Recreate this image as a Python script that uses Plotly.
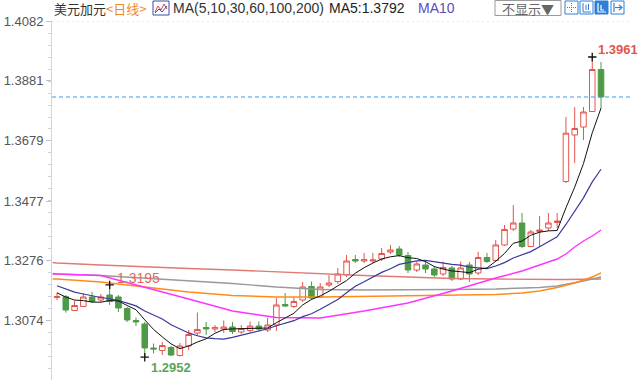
import plotly.graph_objects as go
import pandas as pd

# ---------------- data (USD/CAD daily) ----------------
open_ = [1.31527, 1.31554, 1.31090, 1.31225, 1.31544, 1.31443, 1.31611, 1.31544, 1.31157, 1.30754,
         1.30636, 1.29830, 1.29746, 1.29847, 1.29578, 1.29897, 1.30334, 1.30519, 1.30468, 1.30468,
         1.30536, 1.30368, 1.30418, 1.30569, 1.30435, 1.30603, 1.31292, 1.31225, 1.31443, 1.31897,
         1.31544, 1.31947, 1.32065, 1.32283, 1.32804, 1.32754, 1.32754, 1.32821, 1.33056, 1.33157,
         1.32939, 1.32451, 1.32619, 1.32485, 1.32317, 1.32519, 1.32149, 1.32619, 1.32351, 1.32871,
         1.32771, 1.33292, 1.33829, 1.34031, 1.33241, 1.33745, 1.33863, 1.34048, 1.35426, 1.36989,
         1.37257, 1.37778, 1.39190]
high = [1.31695, 1.31611, 1.31426, 1.31678, 1.31712, 1.31645, 1.3195, 1.31611, 1.31208, 1.30855,
        1.30704, 1.29981, 1.30031, 1.29897, 1.29998, 1.30435, 1.31023, 1.30704, 1.30603, 1.30754,
        1.30704, 1.30603, 1.30720, 1.30720, 1.30838, 1.31510, 1.31678, 1.31544, 1.32048, 1.32065,
        1.32014, 1.32283, 1.32519, 1.32955, 1.32955, 1.33023, 1.33023, 1.33191, 1.33292, 1.33258,
        1.33056, 1.32737, 1.32737, 1.32586, 1.32737, 1.32586, 1.32737, 1.32720, 1.33066, 1.33023,
        1.33460, 1.33964, 1.34636, 1.34367, 1.33796, 1.34266, 1.34367, 1.34367, 1.37594, 1.37930,
        1.37930, 1.3961, 1.39442]
low = [1.31443, 1.31016, 1.31073, 1.31208, 1.31342, 1.31376, 1.31275, 1.31040, 1.30704, 1.30569,
       1.2952, 1.29645, 1.29594, 1.29561, 1.2955, 1.29763, 1.30233, 1.30267, 1.30368, 1.30334,
       1.30300, 1.30300, 1.30368, 1.30384, 1.30368, 1.30401, 1.31208, 1.31174, 1.31376, 1.31443,
       1.31510, 1.31880, 1.31981, 1.32216, 1.32687, 1.32687, 1.32687, 1.32754, 1.32989, 1.32888,
       1.32351, 1.32384, 1.32351, 1.32216, 1.32250, 1.32082, 1.32115, 1.32048, 1.32283, 1.32687,
       1.32720, 1.33258, 1.33762, 1.33191, 1.33224, 1.33224, 1.33762, 1.33863, 1.35375, 1.36048,
       1.36821, 1.37762, 1.37896]
close = [1.31561, 1.31107, 1.31258, 1.31544, 1.31393, 1.31544, 1.31393, 1.31174, 1.30771, 1.30704,
         1.29830, 1.29796, 1.29914, 1.29594, 1.29897, 1.30284, 1.30452, 1.30468, 1.30519, 1.30536,
         1.30384, 1.30485, 1.30569, 1.30468, 1.30603, 1.31275, 1.31241, 1.31393, 1.31880, 1.31510,
         1.31880, 1.32014, 1.32317, 1.32754, 1.32754, 1.32804, 1.32787, 1.33006, 1.33124, 1.32955,
         1.32451, 1.32653, 1.32485, 1.32283, 1.32535, 1.32149, 1.32519, 1.32317, 1.32871, 1.32737,
         1.33292, 1.33813, 1.34031, 1.33241, 1.33729, 1.33796, 1.34031, 1.34098, 1.3705, 1.37207,
         1.3776, 1.39190, 1.38266]
# closes of the days before the visible window (needed for MA5 / MA10)
prior_closes = [1.3230, 1.3222, 1.3215, 1.3210, 1.3203, 1.3181, 1.3176, 1.3164, 1.3164]

# long moving averages at these candle positions
ma_idx = [-0.5, 0, 5, 10, 15, 20, 25, 30, 35, 40, 45, 50, 53, 55, 57, 58, 59, 60, 61, 62]
ma30 = [1.32317, 1.32317, 1.32266, 1.31880, 1.31477, 1.31073, 1.30855, 1.30838, 1.31073, 1.31342,
        1.31746, 1.32182, 1.32418, 1.32619, 1.32821, 1.32989, 1.33224, 1.33426, 1.33594, 1.33796]
ma60 = [1.32149, 1.32149, 1.32048, 1.31880, 1.31712, 1.31594, 1.31544, 1.31544, 1.31561, 1.31594,
        1.31611, 1.31628, 1.31678, 1.31746, 1.31863, 1.31930, 1.32014, 1.32115, 1.32216, 1.32351]
ma100 = [1.32334, 1.32317, 1.32266, 1.32182, 1.32098, 1.31998, 1.31880, 1.31796, 1.31779, 1.31779,
         1.31796, 1.31813, 1.31830, 1.31863, 1.31914, 1.31964, 1.32014, 1.32082, 1.32149, 1.32216]
ma200 = [1.32703, 1.32687, 1.32619, 1.32552, 1.32502, 1.32451, 1.32384, 1.32334, 1.32266, 1.32216,
         1.32166, 1.32149, 1.32132, 1.32132, 1.32132, 1.32132, 1.32132, 1.32132, 1.32139, 1.32149]

y_ticks = [1.4082, 1.3881, 1.3679, 1.3477, 1.3276, 1.3074]
title_name = "美元加元"
period = "<日线>"
ma_title = "MA(5,10,30,60,100,200)"
ma5_text = "MA5:1.3792"
ma10_text = "MA10"
button_text = "不显示▼"
high_mark_idx = [6, 61]
low_mark_idx = [10]

# ---------------- derived ----------------
idx = list(range(len(close)))
allc = pd.Series(prior_closes + close)
ma5 = allc.rolling(5).mean().tolist()[len(prior_closes):]
ma10 = allc.rolling(10).mean().tolist()[len(prior_closes):]

# ---------------- style ----------------
W, H = 640, 380
ML, MR, MT, MB = 52, 8, 21, 0
PW, PH = W - ML - MR, H - MT - MB
RED = "#e2554d"
GREEN = "#4f9a46"
YMIN, YMAX = 1.28754, 1.40820
XMIN, XMAX = -0.57, 65.53
NUM = "Liberation Sans, Arial, sans-serif"
CJK = "Noto Sans CJK SC, sans-serif"


def px(x):
    return (x - ML) / PW


def py(y):
    return (H - MB - y) / PH


fig = go.Figure()

fig.add_trace(go.Candlestick(
    x=idx, open=open_, high=high, low=low, close=close,
    increasing=dict(line=dict(color=RED, width=1), fillcolor="white"),
    decreasing=dict(line=dict(color=GREEN, width=1), fillcolor=GREEN),
    whiskerwidth=0, hoverinfo="skip", showlegend=False,
))

for vals, col, w in [(ma200, "#e07a72", 1.4), (ma100, "#9a9a9a", 1.4),
                     (ma60, "#ff8c1a", 1.4), (ma30, "#ff33ff", 1.4)]:
    fig.add_trace(go.Scatter(x=ma_idx, y=vals, mode="lines", line=dict(color=col, width=w),
                             hoverinfo="skip", showlegend=False))
fig.add_trace(go.Scatter(x=idx, y=ma10, mode="lines", line=dict(color="#3a3a9c", width=1.2),
                         hoverinfo="skip", showlegend=False))
fig.add_trace(go.Scatter(x=idx, y=ma5, mode="lines", line=dict(color="#111111", width=1),
                         hoverinfo="skip", showlegend=False))

# extreme markers
mx = high_mark_idx + low_mark_idx
my = [high[i] for i in high_mark_idx] + [low[i] for i in low_mark_idx]
fig.add_trace(go.Scatter(x=mx, y=my, mode="markers",
                         marker=dict(symbol="cross-thin", size=6, line=dict(color="#111", width=1.3)),
                         hoverinfo="skip", showlegend=False))

shapes = []
# top dotted border line
shapes.append(dict(type="line", xref="paper", yref="y", x0=0, x1=1, y0=y_ticks[0], y1=y_ticks[0],
                   line=dict(color="#d4d8de", width=1, dash="2px,3px")))
# last price line
shapes.append(dict(type="line", xref="paper", yref="y", x0=0, x1=1, y0=close[-1], y1=close[-1],
                   line=dict(color="#3d9bf0", width=1, dash="4px,3px")))

# header icon
shapes.append(dict(type="rect", xref="paper", yref="paper", x0=px(153), x1=px(169), y0=py(15), y1=py(1),
                   line=dict(color="#3450a8", width=1), fillcolor="white"))
shapes.append(dict(type="path", xref="paper", yref="paper",
                   path=f"M {px(155)} {py(12)} L {px(158)} {py(6)} L {px(161)} {py(10)} L {px(164)} {py(4)} L {px(167)} {py(9)}",
                   line=dict(color="#e04040", width=1)))
shapes.append(dict(type="path", xref="paper", yref="paper",
                   path=f"M {px(155)} {py(13)} L {px(159)} {py(9)} L {px(162)} {py(12)} L {px(167)} {py(6)}",
                   line=dict(color="#3450a8", width=1)))
# button
shapes.append(dict(type="rect", xref="paper", yref="paper", x0=px(495), x1=px(561), y0=py(15.5), y1=py(0.5),
                   line=dict(color="#9a9a9a", width=1), fillcolor="white"))
# right icons
BL = "#2f7fd6"
ic = [(565, 578), (580, 593), (595, 608), (611, 624)]
for k, (a, b) in enumerate(ic):
    shapes.append(dict(type="rect", xref="paper", yref="paper", x0=px(a), x1=px(b), y0=py(14), y1=py(1),
                       line=dict(color=BL, width=1), fillcolor=BL if k == 2 else "white"))
shapes.append(dict(type="path", xref="paper", yref="paper",
                   path=f"M {px(571.5)} {py(3)} L {px(571.5)} {py(12)} M {px(567)} {py(7.5)} L {px(576)} {py(7.5)}",
                   line=dict(color=BL, width=1, dash="1px,1px")))
shapes.append(dict(type="path", xref="paper", yref="paper",
                   path=f"M {px(583)} {py(3)} L {px(583)} {py(12)} L {px(591)} {py(12)} M {px(586)} {py(5)} L {px(586)} {py(10)} M {px(588.5)} {py(4)} L {px(588.5)} {py(10)}",
                   line=dict(color=BL, width=1)))
shapes.append(dict(type="path", xref="paper", yref="paper",
                   path=f"M {px(598)} {py(3)} L {px(598)} {py(12)} L {px(606)} {py(12)} M {px(601)} {py(5)} L {px(601)} {py(10)} L {px(604)} {py(10)}",
                   line=dict(color="white", width=1.2)))
shapes.append(dict(type="path", xref="paper", yref="paper",
                   path=f"M {px(614)} {py(3)} L {px(614)} {py(12)} M {px(615)} {py(7.5)} L {px(622)} {py(7.5)} M {px(619)} {py(5)} L {px(622)} {py(7.5)} L {px(619)} {py(10)}",
                   line=dict(color=BL, width=1.2)))

ann = []


def text(x, y, s, color, size, family, anchor="left"):
    ann.append(dict(xref="paper", yref="paper", x=px(x), y=py(y), text=s, showarrow=False,
                    xanchor=anchor, yanchor="middle", font=dict(color=color, size=size, family=family)))


text(52, 8, title_name, "#333333", 13, CJK)
text(104, 8, period, "#f08a24", 13, CJK)
text(171, 8, ma_title, "#333333", 14, NUM)
text(327, 8, ma5_text, "#222222", 14, NUM)
text(416, 8, ma10_text, "#5b4bbd", 14, NUM)
text(528, 8, button_text, "#666666", 13, CJK, anchor="center")

# extreme labels
ann.append(dict(x=high_mark_idx[1], y=high[high_mark_idx[1]], xref="x", yref="y",
                text=f"{high[high_mark_idx[1]]:.4f}", showarrow=False, xanchor="left", yanchor="middle",
                xshift=4, yshift=8, font=dict(color=RED, size=13, family=NUM, weight="bold")))
ann.append(dict(x=high_mark_idx[0], y=high[high_mark_idx[0]], xref="x", yref="y",
                text=f"{high[high_mark_idx[0]]:.4f}", showarrow=False, xanchor="left", yanchor="middle",
                xshift=5, yshift=7, font=dict(color="#e06a64", size=14, family=NUM)))
ann.append(dict(x=low_mark_idx[0], y=low[low_mark_idx[0]], xref="x", yref="y",
                text=f"{low[low_mark_idx[0]]:.4f}", showarrow=False, xanchor="left", yanchor="middle",
                xshift=4, yshift=-10, font=dict(color="#5aa55a", size=13, family=NUM, weight="bold")))

fig.update_layout(
    width=W, height=H, margin=dict(l=ML, r=MR, t=MT, b=MB, pad=0),
    paper_bgcolor="white", plot_bgcolor="white",
    showlegend=False, hovermode=False, boxgap=0.1,
    shapes=shapes, annotations=ann,
    xaxis=dict(range=[XMIN, XMAX], visible=False, rangeslider=dict(visible=False), fixedrange=True),
    yaxis=dict(range=[YMIN, YMAX], tickvals=y_ticks, ticktext=[f"{v:.4f}" for v in y_ticks],
               showgrid=False, zeroline=False, showline=True, linecolor="#c9d6e3", linewidth=1,
               ticks="outside", ticklen=5, tickcolor="#b8c4d0", tickfont=dict(size=13, color="#555555", family=NUM),
               minor=dict(ticks="outside", ticklen=3, tickcolor="#c8d2dc", dtick=0.004033, tick0=1.4082, showgrid=False),
               fixedrange=True),
)

fig.write_html("out.html", config=dict(displayModeBar=False))
